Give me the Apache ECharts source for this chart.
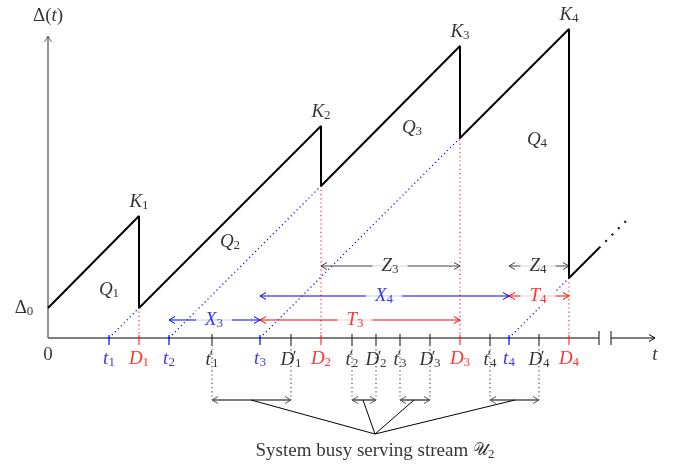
<!DOCTYPE html>
<html>
<head>
<meta charset="utf-8">
<script src="https://cdn.jsdelivr.net/npm/echarts@6/dist/echarts.min.js"></script>
<style>
html, body { margin: 0; background: #fff; }
#main { width: 673px; height: 466px; }
</style>
</head>
<body>
<div id="main"></div>
<script>
// age curve: x is time from the origin, y is the age
const ageX = [0, 91, 91, 273, 273, 412, 412, 521, 521, 551];
const ageY = [30, 122, 30, 212, 152, 292, 200, 309, 60, 90];
const tailX = [551, 580];
const tailY = [90, 119];

// instants on the time axis
const arrivals = [61, 121, 212, 461];      // t1..t4
const departures = [91, 273, 412, 521];    // D1..D4
const otherStarts = [164, 304, 352, 442];  // t'1..t'4
const otherEnds = [243, 328, 382, 491];    // D'1..D'4
const axisBreak = [551, 563];

// interval arrows
const spanNames = ['X', 'T', 'X', 'T', 'Z', 'Z'];
const spanIndex = ['3', '3', '4', '4', '3', '4'];
const spanFrom = [121, 212, 212, 461, 273, 461];
const spanTo = [212, 412, 461, 521, 412, 521];
const spanLevel = [18, 18, 42, 42, 72, 72];

const peakNames = ['1', '2', '3', '4'];
const areaNames = ['1', '2', '3', '4'];
const areaX = [61, 182, 364, 489];
const areaY = [48, 96, 210, 198];

const BLUE = '#0000ff', RED = '#ff0000';

function segs(color, width, dash) {
  return function (params, api) {
    const p1 = api.coord([api.value(0), api.value(1)]);
    const p2 = api.coord([api.value(2), api.value(3)]);
    const dx = p2[0] - p1[0], dy = p2[1] - p1[1];
    const len = Math.hypot(dx, dy) || 1, ux = dx / len, uy = dy / len;
    const kids = [{
      type: 'line',
      shape: { x1: p1[0], y1: p1[1], x2: p2[0], y2: p2[1] },
      style: { stroke: color, lineWidth: width, lineDash: dash || null }
    }];
    function head(p, s) {
      const bx = p[0] - s * ux * 6, by = p[1] - s * uy * 6;
      return {
        type: 'polyline',
        shape: { points: [[bx - uy * 3.5, by + ux * 3.5], [p[0], p[1]], [bx + uy * 3.5, by - ux * 3.5]] },
        style: { stroke: color, fill: null, lineWidth: 1 }
      };
    }
    if (api.value(4)) kids.push(head(p1, -1));
    if (api.value(5)) kids.push(head(p2, 1));
    return { type: 'group', children: kids };
  };
}

function segSeries(data, color, width, dash, z) {
  return {
    type: 'custom', coordinateSystem: 'cartesian2d', silent: true, z: z || 2,
    encode: { x: [0, 2], y: [1, 3] },
    renderItem: segs(color, width, dash), data: data
  };
}

// build segment lists
const blueTicks = arrivals.map(x => [x, 3, x, -7, 0, 0]);
const redTicks = departures.map(x => [x, 3, x, -7, 0, 0]);
const primeX = otherStarts.concat(otherEnds);
const blackTicks = primeX.map(x => [x, 4, x, -7, 0, 0]).concat(axisBreak.map(x => [x, 7, x, -7, 0, 0]));
const primeDots = primeX.map(x => [x, -7, x, -62, 0, 0]);
const redDots = departures.map((d, i) => [d, 0, d, d - arrivals[i], 0, 0]);
const blueDots = departures.map((d, i) => [arrivals[i], 0, d, d - arrivals[i], 0, 0]);
const spanColor = ['blue', 'red', 'blue', 'red', 'gray', 'gray'];
const spanSeg = c => spanNames.map((n, i) => [spanFrom[i], spanLevel[i], spanTo[i], spanLevel[i], 1, 1]).filter((s, i) => spanColor[i] === c);
const busy = otherStarts.map((s, i) => [s, -62, otherEnds[i], -62, 1, 1]);
const hub = [327, -96];
const spokeFrom = [203, 315, 366, 467];
const spokes = spokeFrom.map(x => [x, -62, hub[0], hub[1], 0, 0]);

const labels = [];
function lab(x, y, text, color, extra) {
  labels.push({ value: [x, y], label: Object.assign({ formatter: text, color: color || '#000' }, extra || {}) });
}
lab(0, 322, '{r|Δ(}{m|t}{r|)}');
lab(-24, 30, '{r|Δ}{s|0}');
lab(0, -17, '{r|0}');
lab(607, -17, '{m|t}');
departures.forEach((d, i) => lab(d, ageY[2 * i + 1] + 14, '{m|K}{s|' + peakNames[i] + '}'));
areaX.forEach((x, i) => lab(x, areaY[i], '{m|Q}{s|' + areaNames[i] + '}'));
arrivals.forEach((x, i) => lab(x, -21, '{m|t}{s|' + (i + 1) + '}', BLUE));
departures.forEach((x, i) => lab(x, -21, '{m|D}{s|' + (i + 1) + '}', RED));
otherStarts.forEach((x, i) => lab(x, -22, '{m|t}{p|′}{s|' + (i + 1) + '}'));
otherEnds.forEach((x, i) => lab(x, -22, '{m|D}{p|′}{s|' + (i + 1) + '}'));
const spanMid = [166, 307, 336, 490, 342, 490];
const spanText = { blue: BLUE, red: RED, gray: '#000' };
spanNames.forEach((n, i) => lab(spanMid[i], spanLevel[i], '{m|' + n + '}{s|' + spanIndex[i] + '}', spanText[spanColor[i]],
  { backgroundColor: '#fff', padding: [0, 9] }));
lab(hub[0], -113, '{t|System busy serving stream }{c|𝒰}{s|2}');

const chart = echarts.init(document.getElementById('main'));
chart.setOption({
  animation: false,
  backgroundColor: '#fff',
  grid: { left: 0, right: 0, top: 0, bottom: 0 },
  xAxis: { type: 'value', min: -48, max: 625, show: false },
  yAxis: { type: 'value', min: -128, max: 338, show: false },
  series: [
    segSeries([[0, 0, axisBreak[0], 0, 0, 0], [axisBreak[1], 0, 607, 0, 0, 1]], '#000', 1.2),
    segSeries([[0, 0, 0, 302, 0, 1]], '#666', 1.4),
    segSeries(redDots, '#ff2a2a', 1.2, [1.2, 3], 1),
    segSeries(blueDots, BLUE, 1.2, [1.2, 3], 1),
    segSeries(primeDots, '#333', 1.1, [1.2, 3], 1),
    segSeries(blueTicks, BLUE, 1.2),
    segSeries(redTicks, '#ff3030', 1.2),
    segSeries(blackTicks, '#222', 1.1),
    {
      type: 'line', data: ageX.map((x, i) => [x, ageY[i]]), showSymbol: false, symbol: 'none',
      lineStyle: { color: '#000', width: 2 }, z: 3, silent: true
    },
    {
      type: 'line', data: tailX.map((x, i) => [x, tailY[i]]), showSymbol: false, symbol: 'none',
      lineStyle: { color: '#000', width: 2, type: [2, 7] }, z: 3, silent: true
    },
    segSeries(spanSeg('blue'), BLUE, 1.1),
    segSeries(spanSeg('red'), RED, 1.1),
    segSeries(spanSeg('gray'), '#444', 1.1),
    segSeries(busy, '#555', 1.6),
    segSeries(spokes, '#000', 1),
    {
      type: 'scatter', symbolSize: 0, z: 10, silent: true,
      label: {
        show: true, position: 'inside',
        rich: {
          m: { fontFamily: 'Liberation Serif', fontStyle: 'italic', fontSize: 19, lineHeight: 21 },
          r: { fontFamily: 'Liberation Serif', fontSize: 19, lineHeight: 21 },
          s: { fontFamily: 'Liberation Serif', fontSize: 13, lineHeight: 13, verticalAlign: 'bottom' },
          p: { fontFamily: 'Liberation Serif', fontSize: 17, lineHeight: 17, verticalAlign: 'top', width: 1 },
          t: { fontFamily: 'Liberation Serif', fontSize: 19, lineHeight: 21 },
          c: { fontFamily: 'DejaVu Sans', fontSize: 17, lineHeight: 21 }
        }
      },
      data: labels
    }
  ]
});
</script>
</body>
</html>
